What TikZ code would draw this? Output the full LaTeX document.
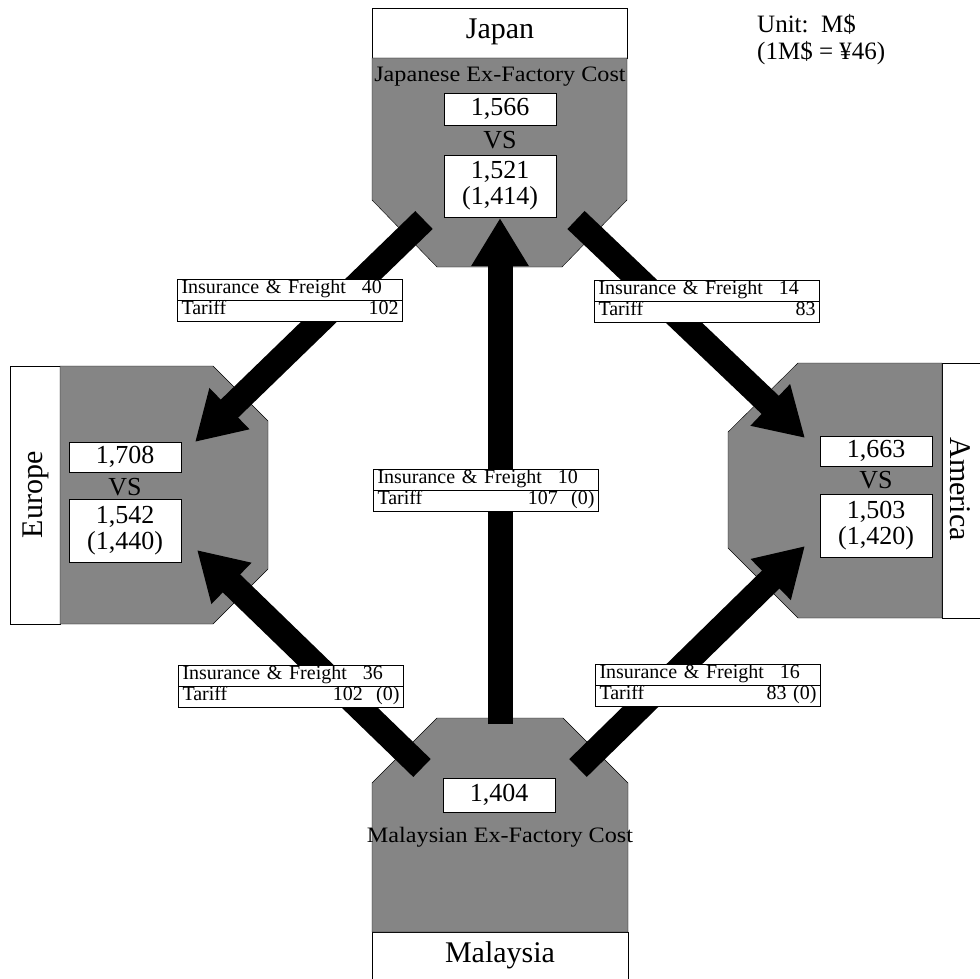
\documentclass[tikz,border=0pt]{standalone}
\usepackage{fontspec}
\setmainfont{Liberation Serif}
\usetikzlibrary{arrows.meta,shapes.multipart}
\tikzset{
  region/.style={draw, fill=black!48},
  namebox/.style={draw, fill=white},
  numbox/.style={draw, fill=white, inner sep=0pt, minimum width=112pt, align=center,
    font=\fontsize{26}{26}\selectfont},
  costtab/.style={draw, fill=white, rectangle split, rectangle split parts=2,
    inner xsep=4pt, inner ysep=0.2pt, text width=217pt, font=\fontsize{20}{20}\selectfont},
  bigarrow/.style={line width=25pt, -{Triangle[length=48pt,width=54pt]}},
  bigtext/.style={font=\fontsize{30}{30}\selectfont},
}
\begin{document}
\begin{tikzpicture}[x=1pt, y=-1pt]
\useasboundingbox (0,0) rectangle (980,979);
% name boxes
\draw[namebox] (372,8) rectangle (627,58);
\draw[namebox] (10,366) rectangle (60,624);
\draw (980,363) -- (942,363) -- (942,618) -- (980,618);
\draw (372,979) -- (372,932) -- (628,932) -- (628,979);
% grey regions
\draw[region] (372,58) -- (627,58) -- (627,200) -- (562,267) -- (437,267) -- (372,200) -- cycle;
\draw[region] (60,366) -- (213,366) -- (268,421) -- (268,569) -- (213,624) -- (60,624) -- cycle;
\draw[region] (798,363) -- (942,363) -- (942,618) -- (798,618) -- (728,548) -- (728,432) -- cycle;
\draw[region] (437,718) -- (563,718) -- (628,783) -- (628,932) -- (372,932) -- (372,783) -- cycle;
% names
\node[bigtext] (japan) at (500,32) {Japan};
\node[bigtext] (malaysia) at (500,955) {Malaysia};
\node[bigtext, rotate=90] (europe) at (36,495) {Europe};
\node[bigtext, rotate=-90] (america) at (960,489) {America};
\node[font=\fontsize{22}{22}\selectfont] (jcost) at (500,77) {\scalebox{1.1}[1]{Japanese Ex-Factory Cost}};
\node[font=\fontsize{22}{22}\selectfont] (mcost) at (500,837) {\scalebox{1.1}[1]{Malaysian Ex-Factory Cost}};
\node[font=\fontsize{25}{27}\selectfont, align=left, anchor=west, inner sep=0pt] (unit) at (757,40) {Unit:\ \ M\$\\(1M\$ = ¥46)};
% arrows
\coordinate (jeTail) at (424,220);
\coordinate (jeTip) at (195,442);
\coordinate (jaTail) at (576,220);
\coordinate (jaTip) at (805,438);
\coordinate (mjTail) at (500,724);
\coordinate (mjTip) at (500,218);
\coordinate (meTail) at (422,768);
\coordinate (meTip) at (197,550);
\coordinate (maTail) at (578,768);
\coordinate (maTip) at (805,546);
\foreach \s/\t in {jeTail/jeTip, jaTail/jaTip, mjTail/mjTip, meTail/meTip, maTail/maTip}
    \draw[bigarrow] (\s) -- (\t);
% cost tables
\foreach \n/\x/\y/\a/\b in {tje/290/300/40/102, tja/707/301/14/83, tmj/486/490/10/107\ \ (0),
    tme/291/686/36/102\ \ (0), tma/708/685/16/83 (0)}
    \node[costtab] (\n) at (\x,\y) {\strut Insurance \& Freight\hspace{0.8em}\a\nodepart{two}\strut Tariff\hfill\b};
% values
\node[numbox, minimum height=32pt] (jv1) at (500,109) {1,566};
\node[font=\fontsize{26}{26}\selectfont] (jvs) at (500,140) {VS};
\node[numbox, minimum height=62pt] (jv2) at (500,186) {1,521\\(1,414)};
\node[numbox, minimum height=30pt] (ev1) at (125,457) {1,708};
\node[font=\fontsize{26}{26}\selectfont] (evs) at (125,487) {VS};
\node[numbox, minimum height=63pt] (ev2) at (125,531) {1,542\\(1,440)};
\node[numbox, minimum height=30pt] (av1) at (876,451) {1,663};
\node[font=\fontsize{26}{26}\selectfont] (avs) at (876,480) {VS};
\node[numbox, minimum height=63pt] (av2) at (876,526) {1,503\\(1,420)};
\node[numbox, minimum height=34pt] (mv1) at (499,795) {1,404};
\end{tikzpicture}
\end{document}
